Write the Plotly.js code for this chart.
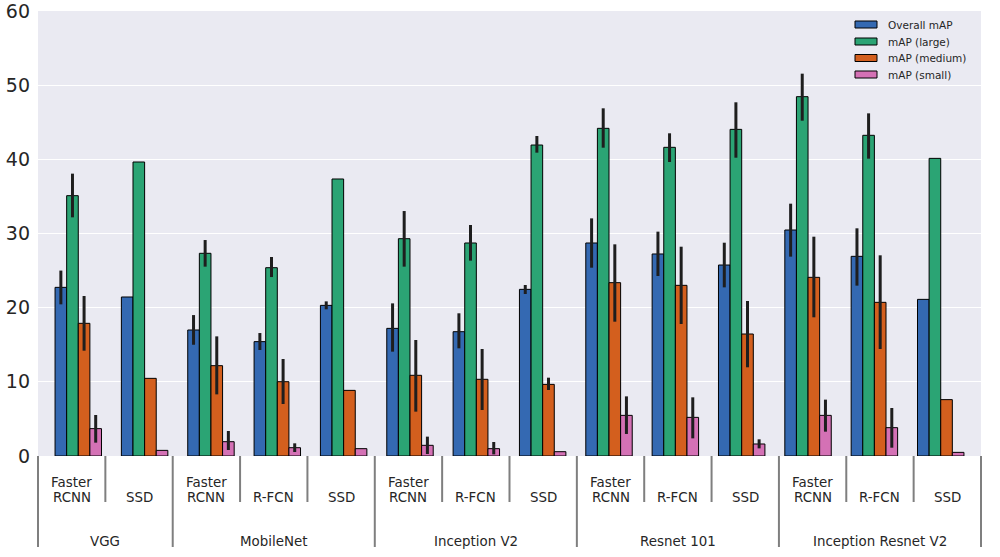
<!DOCTYPE html>
<html>
<head>
<meta charset="utf-8">
<script src="https://cdn.plot.ly/plotly-3.0.1.min.js"></script>
<style>html,body{margin:0;padding:0;background:#fff;}#chart{width:1000px;height:557px;}</style>
</head>
<body>
<div id="chart"></div>
<script>
// ---- data ----
var backbones = ['VGG', 'MobileNet', 'Inception V2', 'Resnet 101', 'Inception Resnet V2'];
var backboneSizes = [2, 3, 3, 3, 3];
var metaArchs = ['Faster RCNN', 'SSD', 'Faster RCNN', 'R-FCN', 'SSD', 'Faster RCNN', 'R-FCN', 'SSD',
                 'Faster RCNN', 'R-FCN', 'SSD', 'Faster RCNN', 'R-FCN', 'SSD'];
var seriesNames = ['Overall mAP', 'mAP (large)', 'mAP (medium)', 'mAP (small)'];

var overall   = [22.74, 21.44, 16.99, 15.42, 20.31, 17.21, 16.76, 22.47, 28.72, 27.24, 25.75, 30.47, 26.92, 21.12];
var overallLo = [20.45, null, 15.0, 14.29, 19.78, 14.07, 14.52, 21.84, 25.39, 24.27, 22.74, 26.88, 22.97, null];
var overallHi = [25.0, null, 19.0, 16.58, 20.85, 20.58, 19.24, 23.06, 32.04, 30.25, 28.76, 34.02, 30.7, null];

var large   = [35.1, 39.64, 27.33, 25.39, 37.35, 29.3, 28.72, 41.93, 44.18, 41.62, 44.04, 48.45, 43.24, 40.13];
var largeLo = [32.18, null, 25.53, 24.13, null, 25.53, 26.34, 40.9, 41.57, 39.64, 40.22, 45.21, 40.09, null];
var largeHi = [38.07, null, 29.12, 26.83, null, 33.03, 31.15, 43.15, 46.88, 43.51, 47.69, 51.55, 46.2, null];

var medium   = [17.89, 10.47, 12.18, 10.02, 8.85, 10.88, 10.34, 9.66, 23.37, 23.01, 16.45, 24.09, 20.72, 7.6];
var mediumLo = [14.2, null, 8.31, 7.01, null, 5.98, 6.2, 8.9, 18.11, 17.8, 11.96, 18.7, 14.43, null];
var mediumHi = [21.57, null, 16.13, 13.08, null, 15.64, 14.43, 10.56, 28.54, 28.22, 20.9, 29.57, 27.06, null];

var small   = [3.69, 0.76, 1.93, 1.12, 0.99, 1.44, 0.99, 0.58, 5.48, 5.21, 1.62, 5.48, 3.82, 0.49];
var smallLo = [1.8, null, 0.81, 0.54, null, 0.27, 0.22, null, 2.97, 2.38, 1.03, 3.28, 1.12, null];
var smallHi = [5.53, null, 3.37, 1.71, null, 2.61, 1.89, null, 8.04, 7.91, 2.25, 7.6, 6.47, null];

var yTicks = [0, 10, 20, 30, 40, 50, 60];

// ---- styling ----
var colors = ['#3469b2', '#2ba474', '#d35f1e', '#d471b5'];
var FONT = 'DejaVu Sans, Liberation Sans, sans-serif';
var TXT = '#262626';
var PLOT_L = 38, PLOT_R = 981, PLOT_T = 11, PLOT_B = 456;
var barW = 0.175;

var values = [overall, large, medium, small];
var los = [overallLo, largeLo, mediumLo, smallLo];
var his = [overallHi, largeHi, mediumHi, smallHi];
var idx = overall.map(function (_, i) { return i; });

function toNum(v) { return (v === null || v === undefined) ? NaN : v; }

var traces = values.map(function (vals, s) {
  return {
    type: 'bar',
    name: seriesNames[s],
    x: idx,
    y: vals,
    width: barW,
    offset: -2 * barW + s * barW,
    marker: { color: colors[s], line: { color: '#000', width: 1 } },
    error_y: {
      type: 'data', symmetric: false,
      array: vals.map(function (v, i) { return toNum(his[s][i]) - v; }),
      arrayminus: vals.map(function (v, i) { return v - toNum(los[s][i]); }),
      color: '#1e1e1e', thickness: 3, width: 0
    },
    showlegend: false,
    hoverinfo: 'skip'
  };
});

function py(pix) { return (PLOT_B - pix) / (PLOT_B - PLOT_T); }
function px(pix) { return (pix - PLOT_L) / (PLOT_R - PLOT_L); }

var shapes = [], annotations = [];
var n = metaArchs.length;
var LBL = 13.4;

// separators
var longAt = [0];
var acc = 0;
backboneSizes.forEach(function (s) { acc += s; longAt.push(acc); });
for (var k = 0; k <= n; k++) {
  var isLong = longAt.indexOf(k) >= 0;
  shapes.push({
    type: 'line', xref: 'paper', yref: 'paper',
    x0: k / n, x1: k / n, y0: py(456), y1: py(isLong ? 547 : 502),
    line: { color: '#7f7f7f', width: 2 }
  });
}

// meta-architecture labels
metaArchs.forEach(function (m, i) {
  var parts = m.indexOf(' ') >= 0 ? m.split(' ') : [m];
  var cx = (i + 0.5) / n;
  if (parts.length === 2) {
    annotations.push({ xref: 'paper', yref: 'paper', x: cx, y: py(482), text: parts[0], showarrow: false,
      xanchor: 'center', yanchor: 'middle', font: { family: FONT, size: LBL, color: TXT } });
    annotations.push({ xref: 'paper', yref: 'paper', x: cx, y: py(497), text: parts[1], showarrow: false,
      xanchor: 'center', yanchor: 'middle', font: { family: FONT, size: LBL, color: TXT } });
  } else {
    annotations.push({ xref: 'paper', yref: 'paper', x: cx, y: py(497), text: parts[0], showarrow: false,
      xanchor: 'center', yanchor: 'middle', font: { family: FONT, size: LBL, color: TXT } });
  }
});

// backbone labels
for (var b = 0; b < backbones.length; b++) {
  var c = (longAt[b] + longAt[b + 1]) / 2 / n;
  annotations.push({ xref: 'paper', yref: 'paper', x: c, y: py(541), text: backbones[b], showarrow: false,
    xanchor: 'center', yanchor: 'middle', font: { family: FONT, size: LBL, color: TXT } });
}

// custom legend
var legRows = [24.5, 41.5, 58, 74.5];
seriesNames.forEach(function (nm, s) {
  shapes.push({
    type: 'rect', xref: 'paper', yref: 'paper',
    x0: px(855), x1: px(877), y0: py(legRows[s] + 3.5), y1: py(legRows[s] - 3.5),
    fillcolor: colors[s], line: { color: '#000', width: 1 }
  });
  annotations.push({ xref: 'paper', yref: 'paper', x: px(886), y: py(legRows[s]), text: nm, showarrow: false,
    xanchor: 'left', yanchor: 'middle', font: { family: FONT, size: 10.5, color: TXT } });
});

var layout = {
  width: 1000, height: 557,
  margin: { l: PLOT_L, r: 1000 - PLOT_R, t: PLOT_T, b: 557 - PLOT_B, pad: 0 },
  paper_bgcolor: '#ffffff',
  plot_bgcolor: '#eaeaf2',
  barmode: 'overlay',
  showlegend: false,
  font: { family: FONT, color: TXT },
  xaxis: {
    range: [-0.607, 13.607], showticklabels: false, showgrid: false, zeroline: false,
    showline: false, ticks: '', fixedrange: true
  },
  yaxis: {
    range: [0, 60], tickvals: yTicks, ticktext: yTicks.map(String),
    showgrid: true, gridcolor: '#ffffff', gridwidth: 1, zeroline: false, showline: false,
    ticks: '', ticklabelstandoff: 7, ticklabeloverflow: 'allow',
    tickfont: { family: FONT, size: 19, color: TXT }, fixedrange: true
  },
  shapes: shapes,
  annotations: annotations
};

Plotly.newPlot('chart', traces, layout, { displayModeBar: false, staticPlot: true });
</script>
</body>
</html>
